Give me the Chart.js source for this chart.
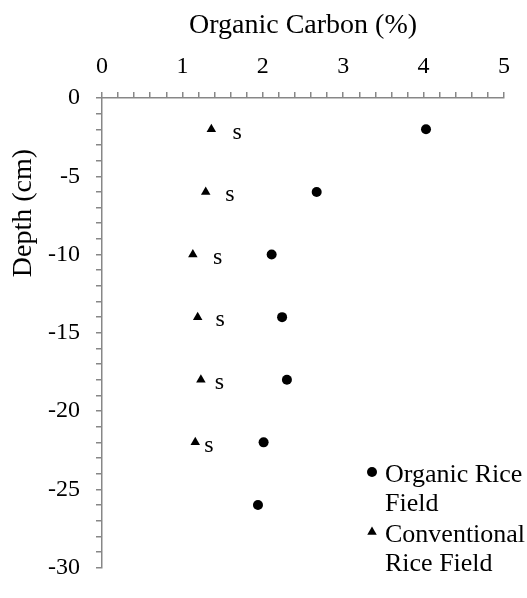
<!DOCTYPE html>
<html lang="en">
<head>
<meta charset="UTF-8">
<title>Organic Carbon vs Depth</title>
<script src="https://cdn.jsdelivr.net/npm/chart.js@4.4.0/dist/chart.umd.min.js"></script>
<style>
  html, body { margin: 0; padding: 0; background: #fff; }
</style>
</head>
<body>
<canvas id="myChart" width="527" height="598"></canvas>
<script>
// depth of each sample (cm)
var depths = [-2, -6, -10, -14, -18, -22, -26];
// organic carbon (%)
var organic = [4.03, 2.67, 2.11, 2.24, 2.30, 2.01, 1.94];
var conventional = [1.36, 1.29, 1.13, 1.19, 1.23, 1.16];
// significance marks next to the conventional points
var sigLabels = ['s', 's', 's', 's', 's', 's'];
var sigLabelX = [1.68, 1.59, 1.44, 1.47, 1.46, 1.33];

var legendLines = [['Organic Rice', 'Field'], ['Conventional', 'Rice Field']];
var xTitle = 'Organic Carbon (%)';
var yTitle = 'Depth (cm)';

var axisGrey = '#878787';
var serif = "'Liberation Serif', 'Times New Roman', serif";

function toPoints(xs) {
    return xs.map(function (v, i) { return {x: v, y: depths[i]}; });
}

var extras = {
    id: 'extras',
    afterDraw: function (chart) {
        var ctx = chart.ctx;
        var xs = chart.scales.x, ys = chart.scales.y;
        ctx.save();
        ctx.fillStyle = '#000';

        // "s" labels
        ctx.font = '24px ' + serif;
        ctx.textAlign = 'center';
        ctx.textBaseline = 'middle';
        sigLabels.forEach(function (t, i) {
            ctx.fillText(t, xs.getPixelForValue(sigLabelX[i]), ys.getPixelForValue(depths[i]) + 3);
        });

        // y axis title (sits in the upper part, like the original)
        ctx.save();
        ctx.font = '28px ' + serif;
        ctx.translate(24, 213);
        ctx.rotate(-Math.PI / 2);
        ctx.textAlign = 'center';
        ctx.textBaseline = 'middle';
        ctx.fillText(yTitle, 0, 0);
        ctx.restore();

        // legend, bottom right inside the plot
        ctx.font = '26px ' + serif;
        ctx.textAlign = 'left';
        ctx.textBaseline = 'alphabetic';
        var y = 482;
        chart.data.datasets.forEach(function (ds, i) {
            Chart.helpers.drawPoint(ctx, {
                pointStyle: ds.pointStyle,
                radius: ds.pointRadius,
                rotation: 0,
                borderWidth: 0
            }, 372, y - 10);
            legendLines[i].forEach(function (line, j) {
                ctx.fillText(line, 385, y + j * 29);
            });
            y += 60;
        });
        ctx.restore();
    }
};

var ctx = document.getElementById('myChart');

var myChart = new Chart(ctx, {
    type: 'scatter',
    data: {
        datasets: [{
            label: 'Organic Rice Field',
            data: toPoints(organic),
            pointStyle: 'circle',
            pointRadius: 5,
            backgroundColor: '#000',
            borderColor: '#000',
            borderWidth: 0
        }, {
            label: 'Conventional Rice Field',
            data: toPoints(conventional),
            pointStyle: 'triangle',
            pointRadius: 5.5,
            backgroundColor: '#000',
            borderColor: '#000',
            borderWidth: 0
        }]
    },
    options: {
        responsive: false,
        animation: false,
        layout: {
            padding: {left: 0, top: 0, right: 23, bottom: 12}
        },
        plugins: {
            legend: {display: false},
            tooltip: {enabled: false}
        },
        scales: {
            x: {
                type: 'linear',
                position: 'top',
                min: 0,
                max: 5,
                afterFit: function (s) { s.height = 98; },
                border: {display: true, color: axisGrey, width: 1.5},
                grid: {drawOnChartArea: false, drawTicks: true, tickLength: 6, color: axisGrey, lineWidth: 1.5},
                ticks: {
                    stepSize: 0.2,
                    autoSkip: false,
                    maxRotation: 0,
                    padding: 11,
                    color: '#000',
                    font: {family: serif, size: 24},
                    callback: function (v) {
                        return Math.abs(v - Math.round(v)) < 1e-6 ? Math.round(v) : '';
                    }
                },
                title: {
                    display: true,
                    text: xTitle,
                    color: '#000',
                    font: {family: serif, size: 28},
                    padding: {top: 9, bottom: 0}
                }
            },
            y: {
                type: 'linear',
                min: -30,
                max: 0,
                afterFit: function (s) { s.width = 102; },
                border: {display: true, color: axisGrey, width: 1.5},
                grid: {drawOnChartArea: false, drawTicks: true, tickLength: 6, color: axisGrey, lineWidth: 1.5},
                ticks: {
                    stepSize: 1,
                    autoSkip: false,
                    padding: 16,
                    color: '#000',
                    font: {family: serif, size: 24},
                    callback: function (v) {
                        return v % 5 === 0 ? v : '';
                    }
                }
            }
        }
    },
    plugins: [extras]
});
</script>
</body>
</html>
